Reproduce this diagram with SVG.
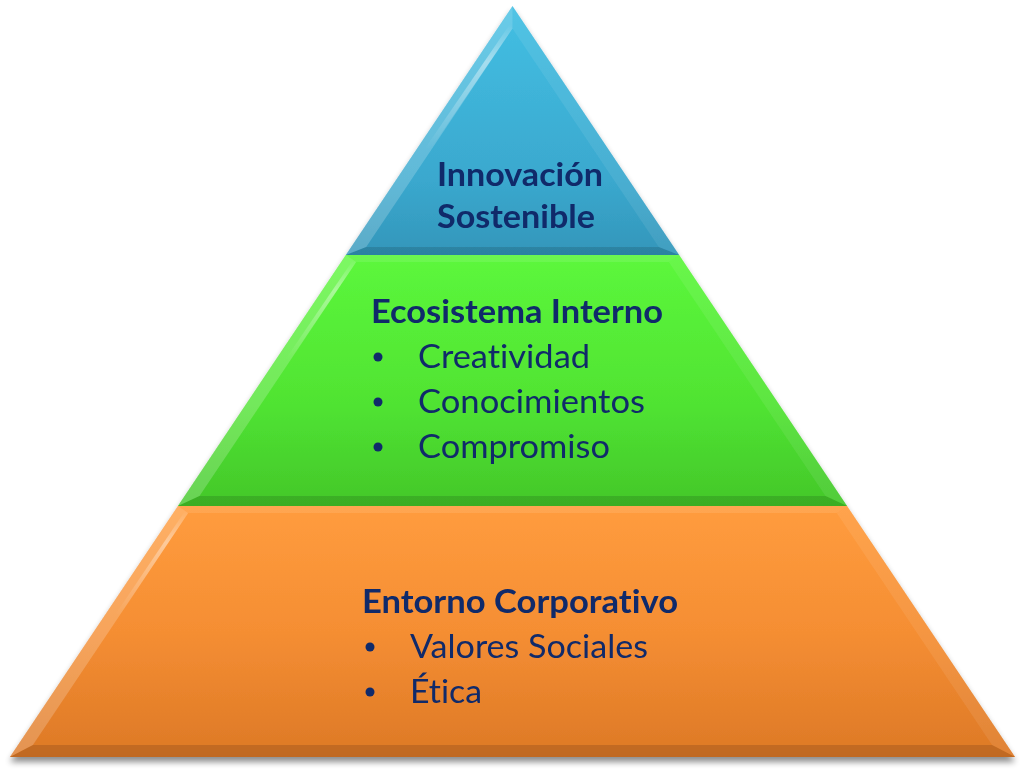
<svg xmlns="http://www.w3.org/2000/svg" width="1024" height="770" viewBox="0 0 1024 770">
  <defs>
    <linearGradient id="gBlue" x1="0" y1="0" x2="0" y2="1">
      <stop offset="0" stop-color="#43BFE3"/>
      <stop offset="0.7" stop-color="#3AA8CE"/>
      <stop offset="1" stop-color="#3396BA"/>
    </linearGradient>
    <linearGradient id="gGreen" x1="0" y1="0" x2="0" y2="1">
      <stop offset="0" stop-color="#5CF73C"/>
      <stop offset="0.6" stop-color="#50E332"/>
      <stop offset="1" stop-color="#43C72A"/>
    </linearGradient>
    <linearGradient id="gOrange" x1="0" y1="0" x2="0" y2="1">
      <stop offset="0" stop-color="#FF9C3E"/>
      <stop offset="0.5" stop-color="#F58E33"/>
      <stop offset="1" stop-color="#DD7926"/>
    </linearGradient>
    <linearGradient id="hl" x1="0" y1="0" x2="0" y2="1">
      <stop offset="0" stop-color="#FFFFFF" stop-opacity="0"/>
      <stop offset="0.3" stop-color="#FFFFFF" stop-opacity="0.6"/>
      <stop offset="1" stop-color="#FFFFFF" stop-opacity="0"/>
    </linearGradient>
    <filter id="shadow" x="-5%" y="-5%" width="110%" height="115%">
      <feGaussianBlur in="SourceAlpha" stdDeviation="3"/>
      <feOffset dx="0" dy="5" result="b"/>
      <feComponentTransfer><feFuncA type="linear" slope="0.45"/></feComponentTransfer>
      <feMerge><feMergeNode/><feMergeNode in="SourceGraphic"/></feMerge>
    </filter>
  </defs>
  <style>
    text { font-variant-ligatures: none; font-feature-settings: "liga" 0, "dlig" 0; }
    .title { font-family: Lato, "Open Sans", "Liberation Sans", sans-serif; font-weight: bold; font-size: 33px; fill: #102A6A; }
    .item { font-family: Lato, "Open Sans", "Liberation Sans", sans-serif; font-weight: normal; font-size: 33px; fill: #102A6A; }
    .bullet { fill: #102A6A; }
    .light { fill: #FFFFFF; fill-opacity: 0.2; }
    .mid { fill: #FFFFFF; fill-opacity: 0.08; }
    .dark { fill: #000000; fill-opacity: 0.13; }
  </style>
  <rect width="1024" height="770" fill="#FFFFFF"/>

  <g filter="url(#shadow)">
    <g id="tier-top">
      <polygon points="512.5,6 679.2,255 345.8,255" fill="url(#gBlue)"/>
      <polygon class="light" points="512.5,6 345.8,255 366.2,247 512.5,28.4"/>
      <polygon class="mid" points="512.5,6 679.2,255 658.8,247 512.5,28.4"/>
      <polygon class="dark" points="345.8,255 679.2,255 658.8,247 366.2,247"/>
      <polygon points="510,24 512.5,28.4 430,150 424,150" fill="url(#hl)" opacity="0.7"/>
    </g>
    <g id="tier-middle">
      <polygon points="345.8,255 679.2,255 847.1,506 177.9,506" fill="url(#gGreen)"/>
      <polygon class="light" points="345.8,255 356.2,262 199.5,496 177.9,506"/>
      <polygon class="mid" points="679.2,255 668.8,262 825.5,496 847.1,506"/>
      <polygon class="light" points="345.8,255 679.2,255 668.8,262 356.2,262" opacity="0.5"/>
      <polygon class="dark" points="177.9,506 847.1,506 825.5,496 199.5,496"/>
      <polygon points="353,260 356.2,262 290,360 285,360" fill="url(#hl)" opacity="0.6"/>
    </g>
    <g id="tier-bottom">
      <polygon points="177.9,506 847.1,506 1015.1,757 9.9,757" fill="url(#gOrange)"/>
      <polygon class="light" points="177.9,506 188.2,513 32.9,745 9.9,757"/>
      <polygon class="mid" points="847.1,506 836.8,513 992.1,745 1015.1,757"/>
      <polygon class="light" points="177.9,506 847.1,506 836.8,513 188.2,513" opacity="0.5"/>
      <polygon class="dark" points="9.9,757 1015.1,757 992.1,745 32.9,745"/>
      <polygon points="185,511 188.2,513 120,615 115,615" fill="url(#hl)" opacity="0.6"/>
    </g>
  </g>

  <g id="connectors"/>

  <g id="label-top">
    <text class="title" x="437" y="186" textLength="166" lengthAdjust="spacingAndGlyphs">Innovación</text>
    <text class="title" x="437" y="228" textLength="158" lengthAdjust="spacingAndGlyphs">Sostenible</text>
  </g>
  <g id="label-middle">
    <text class="title" x="371" y="323" textLength="292" lengthAdjust="spacingAndGlyphs">Ecosistema Interno</text>
    <circle class="bullet" cx="378" cy="357" r="4.5"/>
    <text class="item" x="418" y="368" textLength="172" lengthAdjust="spacingAndGlyphs">Creatividad</text>
    <circle class="bullet" cx="378" cy="402" r="4.5"/>
    <text class="item" x="418" y="413" textLength="227" lengthAdjust="spacingAndGlyphs">Conocimientos</text>
    <circle class="bullet" cx="378" cy="447" r="4.5"/>
    <text class="item" x="418" y="458" textLength="192" lengthAdjust="spacingAndGlyphs">Compromiso</text>
  </g>
  <g id="label-bottom">
    <text class="title" x="362" y="613" textLength="316" lengthAdjust="spacingAndGlyphs">Entorno Corporativo</text>
    <circle class="bullet" cx="370" cy="647" r="4.5"/>
    <text class="item" x="410" y="658" textLength="238" lengthAdjust="spacingAndGlyphs">Valores Sociales</text>
    <circle class="bullet" cx="370" cy="692" r="4.5"/>
    <text class="item" x="410" y="703" textLength="72" lengthAdjust="spacingAndGlyphs">Ética</text>
  </g>
</svg>
